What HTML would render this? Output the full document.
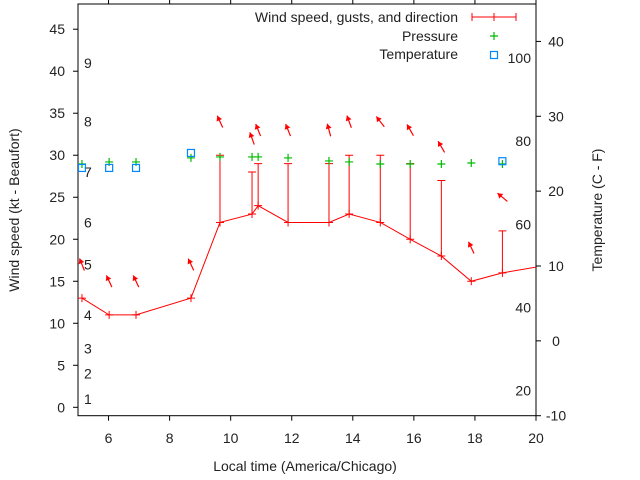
<!DOCTYPE html>
<html><head><meta charset="utf-8"><style>
body{margin:0;background:#fff}
svg{display:block;font-family:"Liberation Sans",sans-serif}
</style></head><body>
<svg id="chart" width="640" height="480" viewBox="0 0 640 480" xmlns="http://www.w3.org/2000/svg"></svg>
<script>
const times=[5.13,6.02,6.9,8.7,9.65,10.7,10.9,11.88,13.22,13.88,14.9,15.88,16.9,17.88,18.9,20.2];
const windSpeed=[13,11,11,13,22,23,24,22,22,23,22,20,18,15,16,16.8];
const gusts=[null,null,null,null,30,28,29,29,29,30,30,29,27,null,21,null];
const pressure=[28.96,29.2,29.2,29.68,29.8,29.8,29.8,29.68,29.32,29.2,28.96,28.96,28.96,29.08,28.96,null];
const tempTimes=[5.13,6.02,6.9,8.7,18.9];
const tempC=[23.1,23.1,23.1,25.1,24.0];
const arrowLevel=[17,15,15,17,34,32,33,33,33,34,34,33,31,19,25,null];
const arrowAngle=[22,25,25,25,25,20,22,22,15,20,38,30,30,25,50,null];
const xTicks=[6,8,10,12,14,16,18,20];
const yTicks=[0,5,10,15,20,25,30,35,40,45];
const y2Ticks=[-10,0,10,20,30,40];
const fTicks=[20,40,60,80,100];
const beaufortNum=[1,2,3,4,5,6,7,8,9];
const beaufortKt=[1,4,7,11,17,22,28,34,41];

const L=78,R=536,T=4,B=415.7;
const X=t=>L+(t-5)*(R-L)/15;
const Y=v=>B-(v+1)*(B-T)/49;
const Y2=c=>B-(c+10)*(B-T)/55;
const svg=document.getElementById('chart');
const NS='http://www.w3.org/2000/svg';
function mk(tag,attrs,parent){const e=document.createElementNS(NS,tag);for(const k in attrs)e.setAttribute(k,attrs[k]);(parent||svg).appendChild(e);return e;}
function txt(s,attrs,parent){const e=mk('text',attrs,parent);e.textContent=s;return e;}

const clip=mk('clipPath',{id:'pc'});mk('rect',{x:L,y:T,width:R-L,height:B-T},clip);

const frame=mk('rect',{x:L,y:T,width:R-L,height:B-T,fill:'none',stroke:'#000','stroke-width':1});



const ax=mk('g',{});


xTicks.forEach(t=>{
  mk('line',{x1:X(t),x2:X(t),y1:B,y2:B+5,stroke:'#000'},ax);
  mk('line',{x1:X(t),x2:X(t),y1:T,y2:T-5,stroke:'#000'},ax);
  const e=txt(t,{x:X(t),y:443,'font-size':14,'text-anchor':'middle',fill:'#222'},ax);
  
  
});
yTicks.forEach(v=>{
  mk('line',{x1:L-5,x2:L,y1:Y(v),y2:Y(v),stroke:'#000'},ax);
  const e=txt(v,{x:65,y:Y(v)+5,'font-size':14,'text-anchor':'end',fill:'#222'},ax);
  
  
});
y2Ticks.forEach(c=>{
  mk('line',{x1:R,x2:R+5,y1:Y2(c),y2:Y2(c),stroke:'#000'},ax);
  const e=txt(c,{x:R+20,y:Y2(c)+5,'font-size':14,'text-anchor':'middle',fill:'#222'},ax);
  
  
});
fTicks.forEach(f=>{
  const e=txt(f,{x:531,y:Y2((f-32)/1.8)+5,'font-size':14,'text-anchor':'end',fill:'#222'},ax);
  
  
});
beaufortNum.forEach((b,i)=>{
  const e=txt(b,{x:84,y:Y(beaufortKt[i])+5,'font-size':14,fill:'#222'},ax);
  
  
});
let e=txt('Local time (America/Chicago)',{x:305,y:471,'font-size':14,'text-anchor':'middle',fill:'#222'});


e=txt('Wind speed (kt - Beaufort)',{x:0,y:0,'font-size':14,'text-anchor':'middle',fill:'#222',transform:'translate(19,210) rotate(-90)'});


e=txt('Temperature (C - F)',{x:0,y:0,'font-size':14,'text-anchor':'middle',fill:'#222',transform:'translate(602,210) rotate(-90)'});



const g=mk('g',{'clip-path':'url(#pc)'});


const wl=mk('polyline',{points:times.map((t,i)=>X(t)+','+Y(windSpeed[i])).join(' '),fill:'none',stroke:'#f00','stroke-width':1},g);


times.forEach((t,i)=>{
  const x=X(t),y=Y(windSpeed[i]);
  const p=mk('path',{d:`M${x-4},${y}H${x+4}M${x},${y-4}V${y+4}`,stroke:'#f00'},g);
  
  
  if(gusts[i]!=null){
    const gy=Y(gusts[i]);
    const q=mk('path',{d:`M${x},${y}V${gy}M${x-4},${gy}H${x+4}`,stroke:'#f00'},g);
    
    
  }
  if(arrowLevel[i]!=null){
    const ay=Y(arrowLevel[i]),a=arrowAngle[i]*Math.PI/180;
    const dx=-Math.sin(a)*6.5,dy=-Math.cos(a)*6.5;
    const hx=x+dx,hy=ay+dy,tx=x-dx,ty=ay-dy;
    const ux=dx/6.5,uy=dy/6.5;
    const bx=hx-ux*5,by=hy-uy*5;
    const ar=mk('g',{},g);
    
    
    mk('line',{x1:tx,y1:ty,x2:hx,y2:hy,stroke:'#f00','stroke-width':1.2},ar);
    mk('polygon',{points:`${hx},${hy} ${bx-uy*3},${by+ux*3} ${bx+uy*3},${by-ux*3}`,fill:'#f00'},ar);
  }
  if(pressure[i]!=null){
    const py=Y(pressure[i]);
    const pp=mk('path',{d:`M${x-4},${py}H${x+4}M${x},${py-4}V${py+4}`,stroke:'#0b0','stroke-width':1.2},g);
    
    
  }
});
tempTimes.forEach((t,i)=>{
  const r=mk('rect',{x:X(t)-3.5,y:Y2(tempC[i])-3.5,width:7,height:7,fill:'none',stroke:'#08f','stroke-width':1.2},g);
  
  
});

const lg=mk('g',{});


[['Wind speed, gusts, and direction',17],['Pressure',36],['Temperature',54]].forEach(([s,y])=>{
  const t=txt(s,{x:458,y:y+5,'font-size':14,'text-anchor':'end',fill:'#222'},lg);
  
  
});
mk('path',{d:'M472,17H516M472,13V21M516,13V21M494,13V21',stroke:'#f00'},lg);
mk('path',{d:'M490,36H498M494,32V40',stroke:'#0b0','stroke-width':1.2},lg);
mk('rect',{x:490.5,y:51.5,width:7,height:7,fill:'none',stroke:'#08f','stroke-width':1.2},lg);
</script>
</body></html>
